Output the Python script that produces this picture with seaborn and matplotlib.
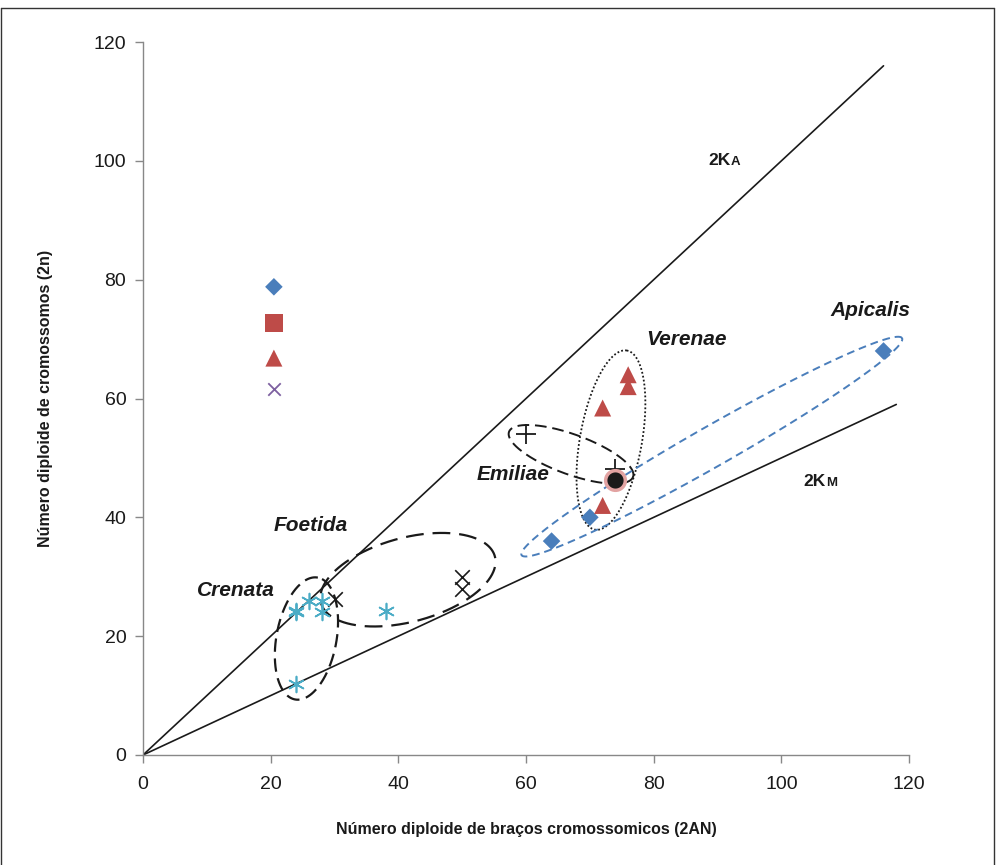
import numpy as np
import pandas as pd
import matplotlib
matplotlib.use("Agg")
import matplotlib.pyplot as plt
from matplotlib.lines import Line2D
import seaborn as sns

# ---- data ----
diam_x = [20.5, 64, 70, 116]
diam_y = [78.8, 36, 40, 68]
sq_x = [20.5]
sq_y = [72.7]
tri_x = [20.5, 72, 72, 76, 76]
tri_y = [66.8, 42, 58.4, 62, 64]
xmark_x = [20.5]
xmark_y = [61.6]
plus_x = [60, 74]
plus_y = [54, 48.2]
circ_x = [74]
circ_y = [46.2]
bx_x = [30, 50, 50]
bx_y = [26.2, 30, 28]
ast_x = [24, 26, 28, 24, 28, 38, 24]
ast_y = [24, 26, 26, 24.2, 24, 24.3, 12]
ka_x = [0, 116]
ka_y = [0, 116]
km_x = [0, 118]
km_y = [0, 59]
groups = ["Apicalis", "Verenae", "Emiliae", "Foetida", "Crenata"]

sns.set_theme(style="white")
plt.rcParams['font.family'] = ['Liberation Sans', 'DejaVu Sans']

fig = plt.figure(figsize=(9.96, 8.65), dpi=100)
ax = fig.add_axes([0.1436, 0.1272, 0.9127 - 0.1436, 0.9514 - 0.1272])

# outer frame
W, H = 996.0, 865.0
for (x0, y0, x1, y1) in [(0.5, H - 8, 994, H - 8), (994, H - 8, 994, 0), (0.5, H - 8, 0.5, 0)]:
    fig.add_artist(Line2D([x0 / W, x1 / W], [y0 / H, y1 / H], transform=fig.transFigure,
                          color='#333333', lw=1.0))

sx = 766 / 120.0
sy = 713 / 120.0

def ell(cx, cy, a, b, ang, **kw):
    t = np.linspace(0, 2 * np.pi, 400)
    th = np.deg2rad(ang)
    xp = a * np.cos(t) * np.cos(th) - b * np.sin(t) * np.sin(th)
    yp = a * np.cos(t) * np.sin(th) + b * np.sin(t) * np.cos(th)
    ax.plot(cx + xp / sx, cy + yp / sy, **kw)

# reference lines
sns.lineplot(x=ka_x, y=ka_y, ax=ax, color='#1a1a1a', lw=1.2)
sns.lineplot(x=km_x, y=km_y, ax=ax, color='#1a1a1a', lw=1.2)

# ellipses
ell(25.6, 19.6, 62, 30, 79.4, color='#1a1a1a', lw=1.6, dashes=(6, 3))
ell(41.5, 29.5, 90, 42, 15, color='#1a1a1a', lw=1.6, dashes=(8, 4))
ell(67.05, 50.6, 66, 20, -20, color='#1a1a1a', lw=1.4, dashes=(6, 3))
ell(73.3, 53.0, 91, 31, 79.9, color='#1a1a1a', lw=1.3, dashes=(1, 1.2))
ell(89.1, 51.9, 219, 20, 29.7, color='#4a7ebb', lw=1.4, dashes=(4, 2.5))

# points
sns.scatterplot(x=diam_x, y=diam_y, ax=ax, marker='D', s=80, color='#4a7ebb', edgecolor='none', zorder=5)
sns.scatterplot(x=sq_x, y=sq_y, ax=ax, marker='s', s=160, color='#be4b48', edgecolor='none', zorder=5)
sns.scatterplot(x=tri_x, y=tri_y, ax=ax, marker='^', s=150, color='#be4b48', edgecolor='none', zorder=5)
sns.scatterplot(x=xmark_x, y=xmark_y, ax=ax, marker='x', s=80, color='#7d60a0', linewidth=1.3, zorder=5)
sns.scatterplot(x=plus_x, y=plus_y, ax=ax, marker='+', s=200, color='#1a1a1a', linewidth=1.3, zorder=6)
sns.scatterplot(x=circ_x, y=circ_y, ax=ax, marker='o', s=200, color='#1a1a1a', edgecolor='#e2a3a2', linewidth=2.5, zorder=7)
sns.scatterplot(x=bx_x, y=bx_y, ax=ax, marker='x', s=110, color='#1a1a1a', linewidth=1.2, zorder=5)
sns.scatterplot(x=ast_x, y=ast_y, ax=ax, marker=(6, 2, 0), s=130, color='#4bacc6', linewidth=1.2, zorder=5)

# group labels
lab_pos = [(113.9, 74.8), (85.1, 70.0), (58.0, 47.2), (26.3, 38.7), (14.6, 27.6)]
for g, (px, py) in zip(groups, lab_pos):
    ax.text(px, py, g, fontsize=15, fontweight='bold', fontstyle='italic',
            ha='center', va='center', color='#1a1a1a')

# 2KA / 2KM labels
ax.text(92.0, 100.0, "2K", fontsize=12.5, fontweight='bold', ha='right', va='center', color='#1a1a1a')
ax.text(92.0, 99.8, "A", fontsize=9.5, fontweight='bold', ha='left', va='center', color='#1a1a1a')
ax.text(107.0, 46.0, "2K", fontsize=12.5, fontweight='bold', ha='right', va='center', color='#1a1a1a')
ax.text(107.0, 45.8, "M", fontsize=9.5, fontweight='bold', ha='left', va='center', color='#1a1a1a')

ax.set_xlim(0, 120)
ax.set_ylim(0, 120)
ax.set_xticks(np.arange(0, 121, 20))
ax.set_yticks(np.arange(0, 121, 20))
ax.tick_params(axis='both', labelsize=14, labelcolor='#1a1a1a', color='#888888',
               length=6, width=1, direction='out', pad=6)
ax.tick_params(axis='x', pad=9)
ax.tick_params(axis='both', which='both', left=True, bottom=True)
for s in ['top', 'right']:
    ax.spines[s].set_visible(False)
for s in ['left', 'bottom']:
    ax.spines[s].set_color('#888888')
    ax.spines[s].set_linewidth(1)
ax.set_xlabel("Número diploide de braços cromossomicos (2AN)", fontsize=11.5, fontweight='bold', labelpad=21, color='#1a1a1a')
ax.set_ylabel("Número diploide de cromossomos (2n)", fontsize=11.5, fontweight='bold', labelpad=29, color='#1a1a1a')
ax.grid(False)

fig.savefig("out.png", dpi=100)
